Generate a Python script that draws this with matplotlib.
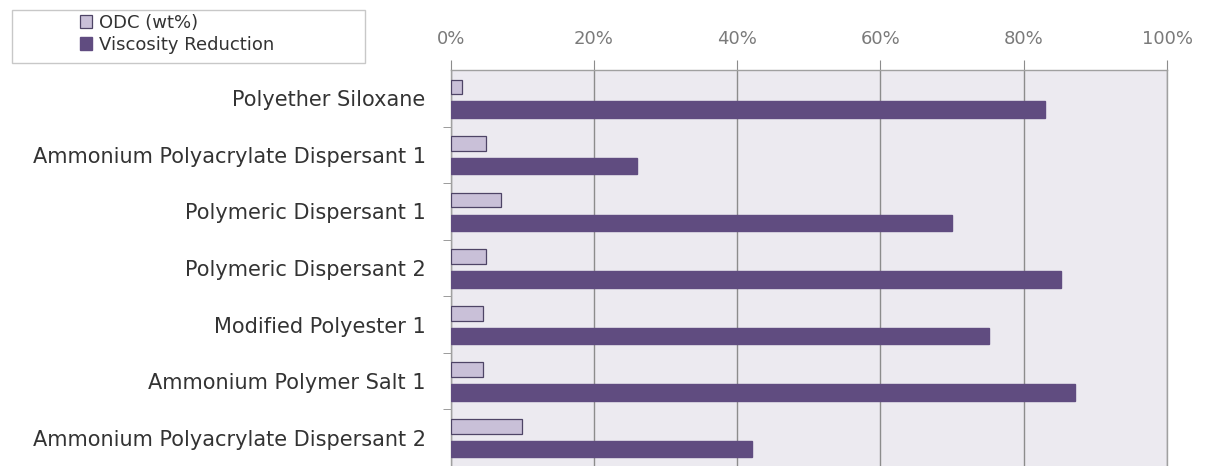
import numpy as np
import matplotlib.pyplot as plt
from matplotlib.patches import Rectangle
from matplotlib.ticker import FixedLocator, PercentFormatter

categories = ["Polyether Siloxane", "Ammonium Polyacrylate Dispersant 1",
              "Polymeric Dispersant 1", "Polymeric Dispersant 2",
              "Modified Polyester 1", "Ammonium Polymer Salt 1",
              "Ammonium Polyacrylate Dispersant 2"]
odc = [1.6, 5.0, 7.0, 5.0, 4.5, 4.5, 10.0]
viscosity_reduction = [83.0, 26.0, 70.0, 85.2, 75.2, 87.1, 42.0]

plt.rcParams['font.family'] = ['DejaVu Sans']

fig = plt.figure(figsize=(12.05, 4.66), dpi=100)
ax = fig.add_axes([0.374, 0.0, 0.5945, 0.8498])
ax.set_facecolor('#ECEAF0')

y = np.arange(len(categories))
b1 = ax.barh(y - 0.2, odc, height=0.26, color='#C9C0D8', edgecolor='#4E4466',
             linewidth=0.9, label='ODC (wt%)', zorder=3)
b2 = ax.barh(y + 0.2, viscosity_reduction, height=0.29, color='#604C80',
             edgecolor='#604C80', label='Viscosity Reduction', zorder=3)

ax.set_xlim(0, 100)
ax.set_ylim(len(categories) - 0.5, -0.5)
ax.xaxis.tick_top()
ax.xaxis.set_major_locator(FixedLocator([0, 20, 40, 60, 80, 100]))
ax.xaxis.set_major_formatter(PercentFormatter(decimals=0))
ax.grid(axis='x', color='#8C8C8C', linewidth=1.0, zorder=1)
ax.tick_params(axis='x', length=7, color='#8C8C8C', labelsize=13,
               labelcolor='#7A7A7A', pad=9)

ax.set_yticks(y)
ax.set_yticklabels(categories)
ax.yaxis.set_minor_locator(FixedLocator(np.arange(0.5, len(categories) - 1, 1)))
ax.tick_params(axis='y', which='major', length=0, labelsize=15,
               labelcolor='#333333', pad=18)
ax.tick_params(axis='y', which='minor', length=6, color='#8C8C8C')

ax.spines['bottom'].set_visible(False)
for side in ['top', 'left', 'right']:
    ax.spines[side].set_color('#A0A0A0')
    ax.spines[side].set_linewidth(1.0)

# legend box is wider than its contents, so draw the frame separately
fig.patches.append(Rectangle((12 / 1205, 1 - 63 / 466), 353 / 1205, 53 / 466,
                             transform=fig.transFigure, facecolor='white',
                             edgecolor='#C8C8C8', linewidth=1.0))
leg = fig.legend(handles=[b1, b2], loc='upper left',
                 bbox_to_anchor=(76 / 1205, 1 - 10 / 466),
                 fontsize=13, frameon=False, borderpad=0.2,
                 handlelength=0.7, handleheight=0.7, handletextpad=0.35,
                 labelspacing=0.25, borderaxespad=0)
for t in leg.get_texts():
    t.set_color('#333333')

fig.savefig('out.png', dpi=100)
